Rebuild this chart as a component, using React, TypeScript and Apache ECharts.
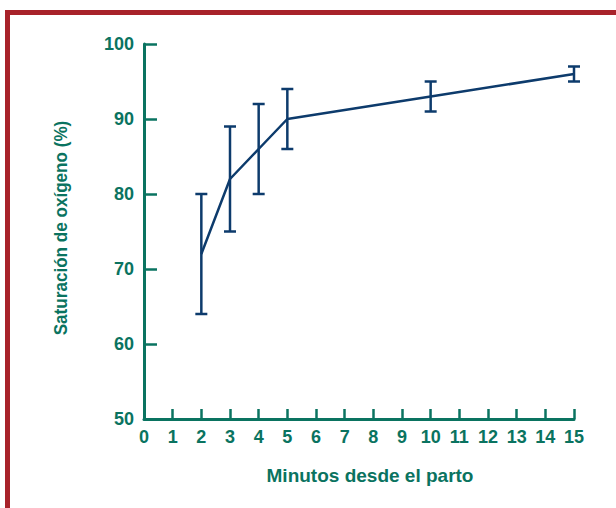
import React, { useEffect, useRef } from "react";
import * as echarts from "echarts";

const minutes = [2, 3, 4, 5, 10, 15];
const saturation = [72, 82, 86, 90, 93, 96];
const lowerBound = [64, 75, 80, 86, 91, 95];
const upperBound = [80, 89, 92, 94, 95, 97];
const xTicks = [0, 15, 1];
const yTicks = [50, 100, 10];

const GREEN = "#0a7360";
const NAVY = "#0d3b6c";
const RED = "#a8222a";
const FONT = "'Liberation Sans', Arial, sans-serif";

export default function App() {
  const ref = useRef<HTMLDivElement>(null);
  useEffect(() => {
    const chart = echarts.init(ref.current!, null, { renderer: "svg" });
    const errData = minutes.map((m, i) => [m, lowerBound[i], upperBound[i]]);
    chart.setOption({
      animation: false,
      backgroundColor: "#ffffff",
      grid: { left: 144, top: 44, right: 42, bottom: 89, containLabel: false },
      xAxis: {
        type: "value",
        min: xTicks[0],
        max: xTicks[1],
        interval: xTicks[2],
        axisLine: { lineStyle: { color: GREEN, width: 3 } },
        axisTick: { inside: true, length: 10, lineStyle: { color: GREEN, width: 2.5 } },
        splitLine: { show: false },
        axisLabel: { color: GREEN, fontFamily: FONT, fontWeight: "bold", fontSize: 18, margin: 9 },
      },
      yAxis: {
        type: "value",
        min: yTicks[0],
        max: yTicks[1],
        interval: yTicks[2],
        axisLine: { show: true, lineStyle: { color: GREEN, width: 3 } },
        axisTick: { show: true, inside: true, length: 13, lineStyle: { color: GREEN, width: 2.5 } },
        splitLine: { show: false },
        axisLabel: { color: GREEN, fontFamily: FONT, fontWeight: "bold", fontSize: 18, margin: 10 },
      },
      graphic: [
        { type: "rect", shape: { x: 5, y: 10, width: 611, height: 5 }, style: { fill: RED } },
        { type: "rect", shape: { x: 5, y: 10, width: 5, height: 498 }, style: { fill: RED } },
        {
          type: "text",
          x: 370,
          y: 475,
          style: {
            text: "Minutos desde el parto",
            fill: GREEN,
            font: `bold 19px ${FONT}`,
            align: "center",
            verticalAlign: "middle",
          },
        },
        {
          type: "text",
          x: 61,
          y: 228,
          rotation: Math.PI / 2,
          scaleX: 0.9,
          style: {
            text: "Saturación de oxígeno (%)",
            fill: GREEN,
            font: `bold 19px ${FONT}`,
            align: "center",
            verticalAlign: "middle",
          },
        },
      ],
      series: [
        {
          type: "line",
          data: minutes.map((m, i) => [m, saturation[i]]),
          symbol: "none",
          lineStyle: { color: NAVY, width: 2.5 },
          z: 3,
        },
        {
          type: "custom",
          data: errData,
          z: 4,
          renderItem: (params: any, api: any) => {
            const x = api.value(0);
            const lo = api.coord([x, api.value(1)]);
            const hi = api.coord([x, api.value(2)]);
            const hw = 6;
            const style = { stroke: NAVY, lineWidth: 2.5 };
            return {
              type: "group",
              children: [
                { type: "line", shape: { x1: lo[0], y1: lo[1], x2: hi[0], y2: hi[1] }, style },
                { type: "line", shape: { x1: lo[0] - hw, y1: lo[1], x2: lo[0] + hw, y2: lo[1] }, style },
                { type: "line", shape: { x1: hi[0] - hw, y1: hi[1], x2: hi[0] + hw, y2: hi[1] }, style },
              ],
            };
          },
        },
      ],
    });
    return () => chart.dispose();
  }, []);
  return (
    <div
      ref={ref}
      style={{ position: "absolute", left: 0, top: 0, width: 616, height: 508 }}
    />
  );
}
